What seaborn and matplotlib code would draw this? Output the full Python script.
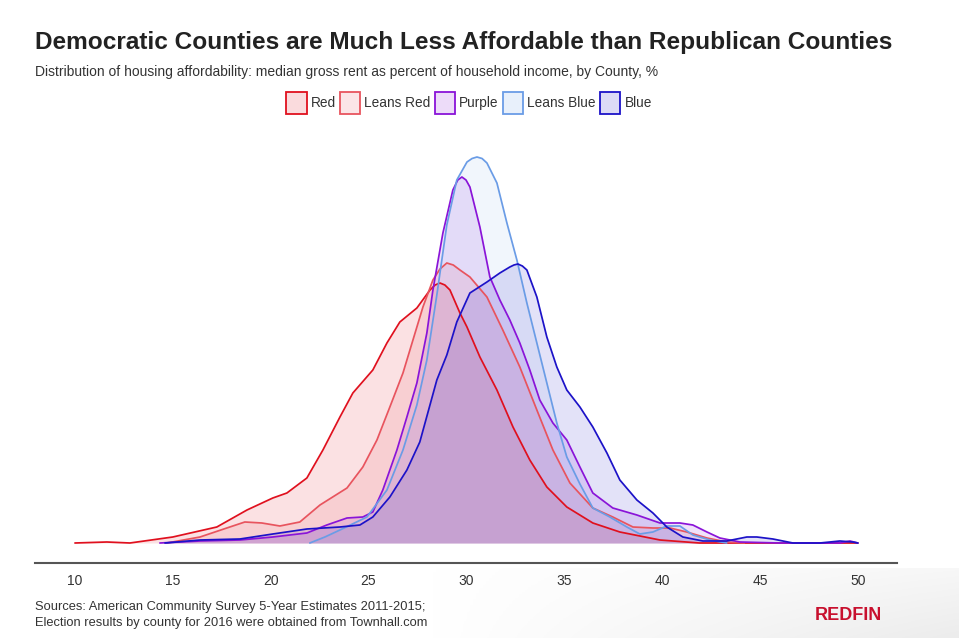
import numpy as np
import pandas as pd
import matplotlib
matplotlib.use("Agg")
import matplotlib.pyplot as plt
import seaborn as sns
from matplotlib.patches import Patch
from matplotlib.colors import to_rgba, LinearSegmentedColormap

# -----------------------------
# Data (density curves)
# -----------------------------
red_x = [10.0, 11.63, 12.81, 15.0, 17.25, 18.79, 20.11, 20.83, 21.85, 22.67, 23.54, 24.2,
         25.22, 25.94, 26.6, 27.47, 28.14, 28.4, 28.65, 28.9, 29.16, 29.67, 30.03, 30.69, 31.56,
         32.38, 33.24, 34.11, 35.13, 36.46, 37.84, 39.89, 41.9, 50.0]
red_y = [0.0, 0.0004, 0.0, 0.0024, 0.0064, 0.0132, 0.0180, 0.0200, 0.0260, 0.0372, 0.0504, 0.0600,
         0.0692, 0.0800, 0.0884, 0.0940, 0.1012, 0.1032, 0.1040, 0.1032, 0.1012, 0.0920, 0.0864, 0.0744,
         0.0612, 0.0464, 0.0332, 0.0224, 0.0144, 0.0080, 0.0044, 0.0012, 0.0, 0.0]

leans_red_x = [14.7, 16.39, 17.76, 18.68, 19.55, 20.47, 21.49, 22.52, 23.9, 24.71, 25.43, 26.09,
               26.76, 27.27, 27.78, 28.29, 28.65, 29.0, 29.33, 29.67, 30.18, 31.05, 31.86, 32.73,
               33.6, 34.42, 35.29, 36.46, 37.48, 38.51, 39.53, 40.4, 41.26, 42.29, 43.3, 44.2]
leans_red_y = [0.0, 0.0024, 0.006, 0.0084, 0.008, 0.0068, 0.0084, 0.0152, 0.022, 0.0304, 0.0412, 0.0544,
               0.068, 0.0812, 0.0944, 0.1052, 0.1096, 0.112, 0.1112, 0.1092, 0.1064, 0.0984, 0.0852, 0.0704,
               0.0532, 0.0372, 0.024, 0.014, 0.0104, 0.0064, 0.006, 0.006, 0.0044, 0.002, 0.0004, 0.0]

purple_x = [14.34, 16.39, 18.43, 20.11, 21.85, 22.87, 23.9, 24.71, 25.22, 25.73, 26.45, 26.96,
            27.47, 27.98, 28.29, 28.8, 29.31, 29.56, 29.77, 29.98, 30.18, 30.69, 31.2, 31.71,
            32.22, 32.73, 33.24, 33.75, 34.42, 35.13, 35.8, 36.46, 37.48, 38.71, 39.89, 40.91,
            41.57, 42.29, 42.95, 43.97, 46.0, 49.08, 49.6, 50.0]
purple_y = [0.0, 0.0008, 0.0012, 0.0024, 0.004, 0.0072, 0.01, 0.0104, 0.0124, 0.0212, 0.0372, 0.0504,
            0.064, 0.084, 0.1012, 0.124, 0.1412, 0.1452, 0.1464, 0.1452, 0.1424, 0.1264, 0.1064, 0.0972,
            0.0892, 0.08, 0.0692, 0.0572, 0.048, 0.0412, 0.0304, 0.02, 0.014, 0.0112, 0.008, 0.008,
            0.0072, 0.0044, 0.002, 0.0004, 0.0, 0.0, 0.0008, 0.0]

leans_blue_x = [22.0, 22.77, 23.54, 24.92, 25.94, 26.76, 27.47, 27.98, 28.49, 29.0, 29.51, 30.03,
                30.29, 30.54, 30.8, 31.05, 31.56, 32.07, 32.58, 33.09, 33.6, 34.11, 34.62, 35.13,
                35.8, 36.46, 37.33, 38.2, 38.86, 39.53, 40.24, 40.91, 41.57, 42.44, 43.3]
leans_blue_y = [0.0, 0.0024, 0.0052, 0.0104, 0.0212, 0.0372, 0.0552, 0.0732, 0.0992, 0.1272, 0.1452, 0.1524,
                0.1538, 0.1544, 0.1538, 0.152, 0.144, 0.128, 0.1132, 0.096, 0.08, 0.064, 0.048, 0.0344,
                0.0236, 0.014, 0.0104, 0.0064, 0.0036, 0.0044, 0.0068, 0.0068, 0.0032, 0.0012, 0.0]

blue_x = [14.6, 16.39, 18.43, 20.11, 21.85, 23.54, 24.56, 25.22, 26.09, 26.96, 27.62, 28.49,
          29.0, 29.51, 30.18, 31.05, 31.71, 32.22, 32.43, 32.63, 32.86, 33.09, 33.6, 34.11, 34.62,
          35.13, 35.8, 36.46, 37.18, 37.84, 38.71, 39.53, 40.24, 41.06, 42.08, 43.3, 44.33, 44.84,
          45.66, 46.68, 48.06, 49.08, 49.74, 50.0]
blue_y = [0.0, 0.0012, 0.0016, 0.0036, 0.0056, 0.0064, 0.0072, 0.0104, 0.0184, 0.0292, 0.0404, 0.0652,
          0.0752, 0.0884, 0.1, 0.1044, 0.108, 0.1104, 0.1112, 0.1116, 0.1108, 0.1092, 0.0984, 0.0824,
          0.0704, 0.0612, 0.0544, 0.0464, 0.036, 0.0252, 0.0172, 0.012, 0.0064, 0.0024, 0.0008, 0.0008,
          0.0024, 0.0024, 0.0016, 0.0, 0.0, 0.0008, 0.0004, 0.0]

groups = ["Red", "Leans Red", "Purple", "Leans Blue", "Blue"]
xs = [red_x, leans_red_x, purple_x, leans_blue_x, blue_x]
ys = [red_y, leans_red_y, purple_y, leans_blue_y, blue_y]
line_colors = ["#e0101e", "#e8545e", "#8a14d8", "#6a9ce6", "#1c12c8"]
fill_alpha = [0.12, 0.12, 0.12, 0.09, 0.12]

tick_vals = [10, 15, 20, 25, 30, 35, 40, 45, 50]

# -----------------------------
# Figure
# -----------------------------
sns.set_style("white")
plt.rcParams["font.family"] = ["Liberation Sans", "DejaVu Sans"]

fig = plt.figure(figsize=(9.59, 6.38), dpi=100)

# faint grey wash at the bottom right
bg = fig.add_axes([0, 0, 1, 0.11], zorder=-5)
gx = np.linspace(0, 1, 300)[None, :]
gy = np.linspace(1, 0, 60)[:, None]
grad = np.clip((gx - 0.45) / 0.55, 0, 1) * (0.4 + 0.6 * (1 - gy))
wash = LinearSegmentedColormap.from_list("wash", ["#ffffff", "#ececec"])
bg.imshow(grad, aspect="auto", cmap=wash, extent=[0, 1, 0, 1], vmin=0, vmax=1)
bg.axis("off")

ax = fig.add_axes([35 / 959, 1 - 563 / 638, (897 - 35) / 959, (563 - 130) / 638])
ax.patch.set_alpha(0)

for name, x, y, c, a in zip(groups, xs, ys, line_colors, fill_alpha):
    ax.fill_between(x, y, 0, color=c, alpha=a, linewidth=0)
for name, x, y, c in zip(groups, xs, ys, line_colors):
    df = pd.DataFrame({"x": x, "y": y})
    sns.lineplot(data=df, x="x", y="y", color=c, linewidth=1.25, sort=False,
                 estimator=None, ax=ax)

ax.set_xlim(7.96, 52.0)
ax.set_ylim(-0.008, 0.1652)
ax.set_xticks(tick_vals)
ax.set_xticklabels([str(v) for v in tick_vals])
ax.set_yticks([])
ax.set_xlabel("")
ax.set_ylabel("")
sns.despine(ax=ax, left=True, top=True, right=True)
ax.spines["bottom"].set_color("#555555")
ax.spines["bottom"].set_linewidth(1.5)
ax.tick_params(axis="x", direction="out", length=5, width=0.8, color="#bbbbbb",
               labelsize=10, labelcolor="#333333", pad=3)

# -----------------------------
# Legend
# -----------------------------
handles = [Patch(facecolor=to_rgba(c, 0.15), edgecolor=c, linewidth=1.3, label=g)
           for g, c in zip(groups, line_colors)]
fig.legend(handles=handles, loc="center", bbox_to_anchor=(469 / 959, 1 - 103 / 638),
           ncol=5, frameon=False, fontsize=9.8, handlelength=1.5, handleheight=2.0,
           handletextpad=0.3, columnspacing=0.3, labelcolor="#333333")

# -----------------------------
# Text
# -----------------------------
fig.text(35 / 959, 1 - 42 / 638, "Democratic Counties are Much Less Affordable than Republican Counties",
         fontsize=17.6, fontweight="bold", color="#222222", va="center", ha="left")
fig.text(35 / 959, 1 - 72 / 638,
         "Distribution of housing affordability: median gross rent as percent of household income, by County, %",
         fontsize=10, color="#333333", va="center", ha="left")
fig.text(35 / 959, 1 - 607 / 638, "Sources: American Community Survey 5-Year Estimates 2011-2015;",
         fontsize=9.3, color="#333333", va="center", ha="left")
fig.text(35 / 959, 1 - 623 / 638, "Election results by county for 2016 were obtained from Townhall.com",
         fontsize=9.3, color="#333333", va="center", ha="left")
fig.text(848 / 959, 1 - 615 / 638, "REDFIN", fontsize=13, fontweight="bold",
         color="#c8102e", va="center", ha="center", fontstretch="condensed")

fig.savefig("out.png", dpi=100)
